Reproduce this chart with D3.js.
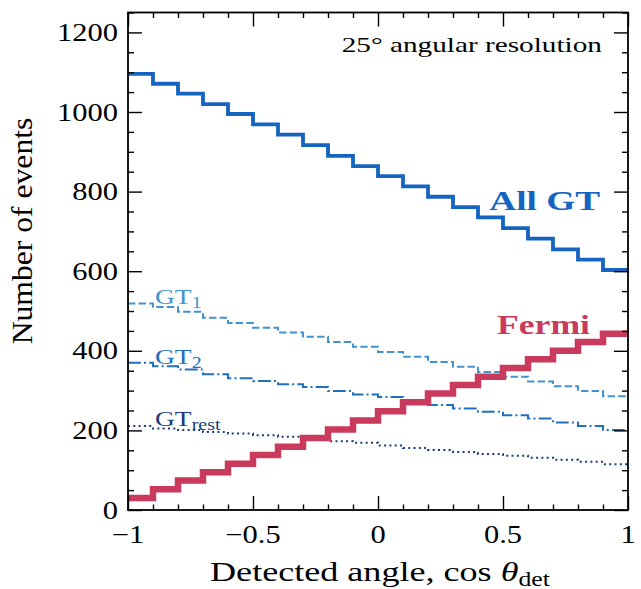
<!DOCTYPE html>
<html><head><meta charset="utf-8">
<script src="https://cdn.jsdelivr.net/npm/d3@7"></script>
<style>html,body{margin:0;padding:0;background:#fff;}svg{display:block;}</style>
</head><body>
<script>
// ---- data (20 bins of width 0.1 in cos theta_det) ----
const binEdges = d3.range(21).map(i => -1 + i * 0.1);
const allGT  = [1096,1071,1046,1020,995,969,943,917,890,864,839,813,787,761,735,708,682,655,629,603];
const fermi  = [30,52,74,95,116,138,159,181,202,225,248,271,293,314,335,357,379,400,422,443];
const gt1    = [519,510,498,483,470,458,446,435,422,410,397,385,372,360,347,335,323,311,299,286];
const gt2    = [370,361,353,341,331,324,316,309,299,290,284,276,264,255,247,238,230,220,211,201];
const gtRest = [211,205,201,196,192,188,184,178,173,169,162,156,151,146,141,136,131,126,121,115];
const xMajor = [-1,-0.5,0,0.5,1];
const xMajorLabels = ["\u22121","\u22120.5","0","0.5","1"];
const yMajor = [0,200,400,600,800,1000,1200];

const W = 641, H = 589;
const L = 128, R = 628, T = 12.5, B = 510;
const FONT = "'Liberation Serif', 'Times New Roman', serif";

const svg = d3.select("body").append("svg").attr("width", W).attr("height", H);
const x = d3.scaleLinear().domain([-1, 1]).range([L, R]);
const y = d3.scaleLinear().domain([0, 1250]).range([B, T]);

svg.append("clipPath").attr("id","clip").append("rect")
  .attr("x", L).attr("y", T).attr("width", R - L).attr("height", B - T);

function stepData(vals){ const d = vals.map((v,i)=>[binEdges[i], v]); d.push([binEdges[20], vals[19]]); return d; }
const line = d3.line().x(d => x(d[0])).y(d => y(d[1])).curve(d3.curveStepAfter);

const series = [
  {vals: gtRest, color: "#1b3c7e", w: 2, dash: "2,3.3"},
  {vals: gt2,    color: "#2170be", w: 2, dash: "12.8,3.2,2,3.2"},
  {vals: gt1,    color: "#4393d0", w: 2, dash: "7.4,3.2"},
  {vals: fermi,  color: "#c93a5c", w: 6.5, dash: null},
  {vals: allGT,  color: "#1464c0", w: 3.8, dash: null},
];
const gPlot = svg.append("g").attr("clip-path","url(#clip)");
series.forEach(s => {
  gPlot.append("path").datum(stepData(s.vals)).attr("d", line)
    .attr("fill","none").attr("stroke", s.color).attr("stroke-width", s.w)
    .attr("stroke-dasharray", s.dash).attr("stroke-linejoin","miter").attr("stroke-linecap","butt");
});

// ---- axes with inward ticks on all four sides ----
const xMinor = d3.range(-10, 11).map(i => i/10).filter(v => !xMajor.some(m => Math.abs(m - v) < 1e-9));
const yMinor = d3.range(0, 1251, 50).filter(v => v % 200 !== 0);
const axStyle = g => g.call(a => a.select(".domain").remove()).selectAll("line").attr("stroke","#000").attr("stroke-width",1.4);
function addAxis(axisFn, scale, vals, size, tr){
  svg.append("g").attr("transform", tr)
    .call(axisFn(scale).tickValues(vals).tickSize(size).tickFormat(""))
    .call(axStyle);
}
addAxis(d3.axisBottom, x, xMajor, -14, `translate(0,${B})`);
addAxis(d3.axisBottom, x, xMinor, -5.5, `translate(0,${B})`);
addAxis(d3.axisTop, x, xMajor, -14, `translate(0,${T})`);
addAxis(d3.axisTop, x, xMinor, -5.5, `translate(0,${T})`);
addAxis(d3.axisLeft, y, yMajor, -14, `translate(${L},0)`);
addAxis(d3.axisLeft, y, yMinor, -6, `translate(${L},0)`);
addAxis(d3.axisRight, y, yMajor, -14, `translate(${R},0)`);
addAxis(d3.axisRight, y, yMinor, -6, `translate(${R},0)`);

svg.append("rect").attr("x", L).attr("y", T).attr("width", R-L).attr("height", B-T)
  .attr("fill","none").attr("stroke","#000").attr("stroke-width",1.8);

// ---- text helper (horizontally stretched serif) ----
function txt(px, py, opts){
  const g = svg.append("g").attr("transform", `translate(${px},${py}) ${opts.rot ? "rotate(-90)" : ""} scale(${opts.sx||1.2},${opts.sy||1})`);
  const t = g.append("text").attr("x",0).attr("y",0)
    .attr("font-family", FONT).attr("font-size", opts.size)
    .attr("font-weight", opts.bold ? "bold" : "normal")
    .attr("fill", opts.color || "#000").attr("text-anchor", opts.anchor || "start");
  return t;
}

// tick labels
yMajor.forEach(v => txt(118, y(v) + 8.5, {size: 25, anchor: "end", sx: 1.22}).text(String(v)));
xMajor.forEach((v,i) => txt(x(v), 543, {size: 25, anchor: "middle", sx: 1.22}).text(xMajorLabels[i]));

// axis labels
const xl = txt(380, 581, {size: 28, anchor: "middle", sx: 1.29});
xl.append("tspan").text("Detected angle, cos ");
xl.append("tspan").attr("font-style","italic").text("\u03B8");
xl.append("tspan").attr("font-size", 20).attr("dy", 5).text("det");

txt(32, 231, {size: 28, anchor: "middle", sx: 1.13, sy: 1.05, rot: true}).text("Number of events");

// annotation
txt(602, 52, {size: 22, anchor: "end", sx: 1.33}).text("25\u00B0 angular resolution");

// series labels
txt(600, 210, {size: 27, anchor: "end", bold: true, color: "#1464c0", sx: 1.38}).text("All GT");
txt(590, 334, {size: 27, anchor: "end", bold: true, color: "#c93a5c", sx: 1.32}).text("Fermi");

function gtLabel(px, py, sub, color){
  const t = txt(px, py, {size: 22, color: color, sx: 1.25});
  t.append("tspan").text("GT");
  t.append("tspan").attr("font-size", 16).attr("dy", 4).text(sub);
}
gtLabel(155, 304, "1", "#4393d0");
gtLabel(155, 364, "2", "#2170be");
gtLabel(155, 426, "rest", "#1b3c7e");
</script>
</body></html>
